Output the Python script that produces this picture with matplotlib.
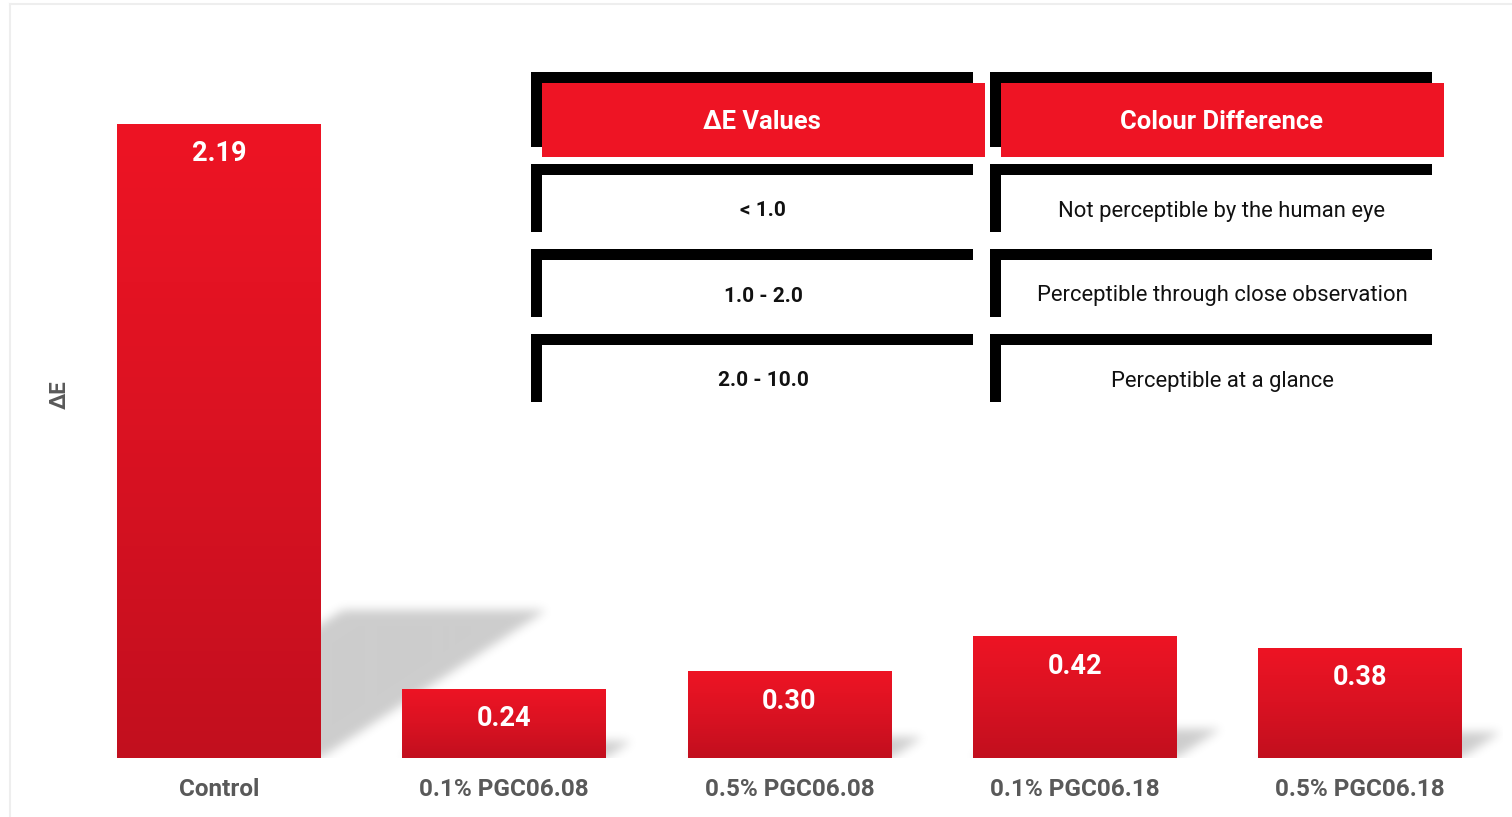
import numpy as np
import matplotlib
matplotlib.use("Agg")
import matplotlib.pyplot as plt
from matplotlib.patches import Rectangle
from matplotlib.lines import Line2D
from matplotlib.colors import LinearSegmentedColormap

# ---------------- data ----------------
categories = ["Control", "0.1% PGC06.08", "0.5% PGC06.08", "0.1% PGC06.18", "0.5% PGC06.18"]
delta_e = [2.19, 0.24, 0.30, 0.42, 0.38]
value_labels = ["2.19", "0.24", "0.30", "0.42", "0.38"]
y_label = "ΔE"
table_headers = ["ΔE Values", "Colour Difference"]
table_ranges = ["< 1.0", "1.0 - 2.0", "2.0 - 10.0"]
table_meanings = ["Not perceptible by the human eye",
                  "Perceptible through close observation",
                  "Perceptible at a glance"]

# ---------------- figure ----------------
plt.rcParams['font.family'] = ['Roboto', 'DejaVu Sans']
W, H = 1512, 817
fig = plt.figure(figsize=(W / 100, H / 100), dpi=100)
fig.patch.set_facecolor('white')


def fx(px):
    return px / W


def fy(py):
    return 1 - py / H


ymax = 2.6
ax = fig.add_axes([fx(76.4), fy(758), (1502.6 - 76.4) / W, (758 - 5.3) / H])
ax.patch.set_alpha(0)
xs = np.arange(len(categories))
bar_w = 0.715

# ---------------- cast shadows (derived from bar values) ----------------
nx, ny = 1426, 753
gx = np.linspace(-0.5, 4.5, nx)
gy = np.linspace(0, ymax, ny)
X, Y = np.meshgrid(gx, gy)
mask = np.zeros_like(X)
for xi, v in zip(xs, delta_e):
    dx = v * 0.3618
    dy = v * 0.2334
    xshift = X - (Y / dy) * dx
    inside = (Y <= dy) & (xshift >= xi - bar_w / 2) & (xshift <= xi + bar_w / 2)
    mask[inside] = 1.0


def blur(a, sigma):
    r = int(3 * sigma)
    k = np.exp(-0.5 * (np.arange(-r, r + 1) / sigma) ** 2)
    k /= k.sum()
    a = np.apply_along_axis(lambda m: np.convolve(m, k, mode='same'), 0, a)
    a = np.apply_along_axis(lambda m: np.convolve(m, k, mode='same'), 1, a)
    return a


mask = blur(mask, 5)
rgba = np.zeros((ny, nx, 4))
rgba[..., 3] = 0.2 * mask
ax.imshow(rgba, extent=[-0.5, 4.5, 0, ymax], origin='lower', aspect='auto',
          interpolation='bilinear', zorder=1)

# ---------------- gradient bars ----------------
cmap = LinearSegmentedColormap.from_list('bar', ['#C20F1E', '#DA1222', '#EE1424'])
bars = ax.bar(xs, delta_e, width=bar_w, color='#EE1424', zorder=2)
grad = np.linspace(0, 1, 256).reshape(-1, 1)
for b in bars:
    x0, w, h = b.get_x(), b.get_width(), b.get_height()
    im = ax.imshow(grad, extent=[x0, x0 + w, 0, h], origin='lower', cmap=cmap,
                   aspect='auto', zorder=2.5)
    im.set_clip_path(b)

for xi, v, lab in zip(xs, delta_e, value_labels):
    ax.annotate(lab, (xi, v), xytext=(0, -21.6), textcoords='offset points',
                ha='center', va='center', color='white', fontsize=19.5,
                fontweight='bold', zorder=4)

ax.set_xlim(-0.5, 4.5)
ax.set_ylim(0, ymax)
ax.set_xticks(xs, categories)
ax.tick_params(axis='x', length=0, pad=14.3, labelsize=17.5, labelcolor='#595959')
for t in ax.get_xticklabels():
    t.set_fontweight('bold')
ax.set_yticks([])
for s in ax.spines.values():
    s.set_visible(False)

fig.text(fx(60), fy(395), y_label, rotation=90, ha='center', va='center',
         fontsize=16, fontweight='bold', color='#595959')

# ---------------- reference table ----------------
def rect_px(x0, y0, x1, y1, color, z=5):
    fig.patches.append(Rectangle((fx(x0), fy(y1)), (x1 - x0) / W, (y1 - y0) / H,
                                 transform=fig.transFigure, facecolor=color,
                                 edgecolor='none', zorder=z))


col_x0 = [531, 990]
# header
for c, head in enumerate(table_headers):
    x0 = col_x0[c]
    rect_px(x0, 72, x0 + 442, 83, 'black')
    rect_px(x0, 72, x0 + 11, 147, 'black')
    rect_px(x0 + 11, 83, x0 + 454, 157, '#EE1424', z=6)
    fig.text(fx(x0 + 231), fy(122), head, ha='center', va='center',
             color='white', fontsize=18.4, fontweight='bold', zorder=7)

for r, (rng, meaning) in enumerate(zip(table_ranges, table_meanings)):
    y0 = 164 + 85 * r
    for c, txt in enumerate([rng, meaning]):
        x0 = col_x0[c]
        rect_px(x0, y0, x0 + 442, y0 + 11, 'black')
        rect_px(x0, y0, x0 + 11, y0 + 68, 'black')
        rect_px(x0 + 11, y0 + 11, x0 + 454, y0 + 76, 'white', z=4)
        fig.text(fx(x0 + 232), fy(y0 + 47), txt, ha='center', va='center',
                 color='#111111', fontsize=15.8 if c == 1 else 15,
                 fontweight='bold' if c == 0 else 'normal', zorder=7)

# faint outer frame
fig.lines.append(Line2D([fx(10), fx(10)], [fy(4), 0], transform=fig.transFigure,
                        color='#EEEEEE', lw=1.5))
fig.lines.append(Line2D([fx(10), 1], [fy(4), fy(4)], transform=fig.transFigure,
                        color='#EEEEEE', lw=1.5))

fig.savefig('out.png', dpi=100, facecolor='white')
